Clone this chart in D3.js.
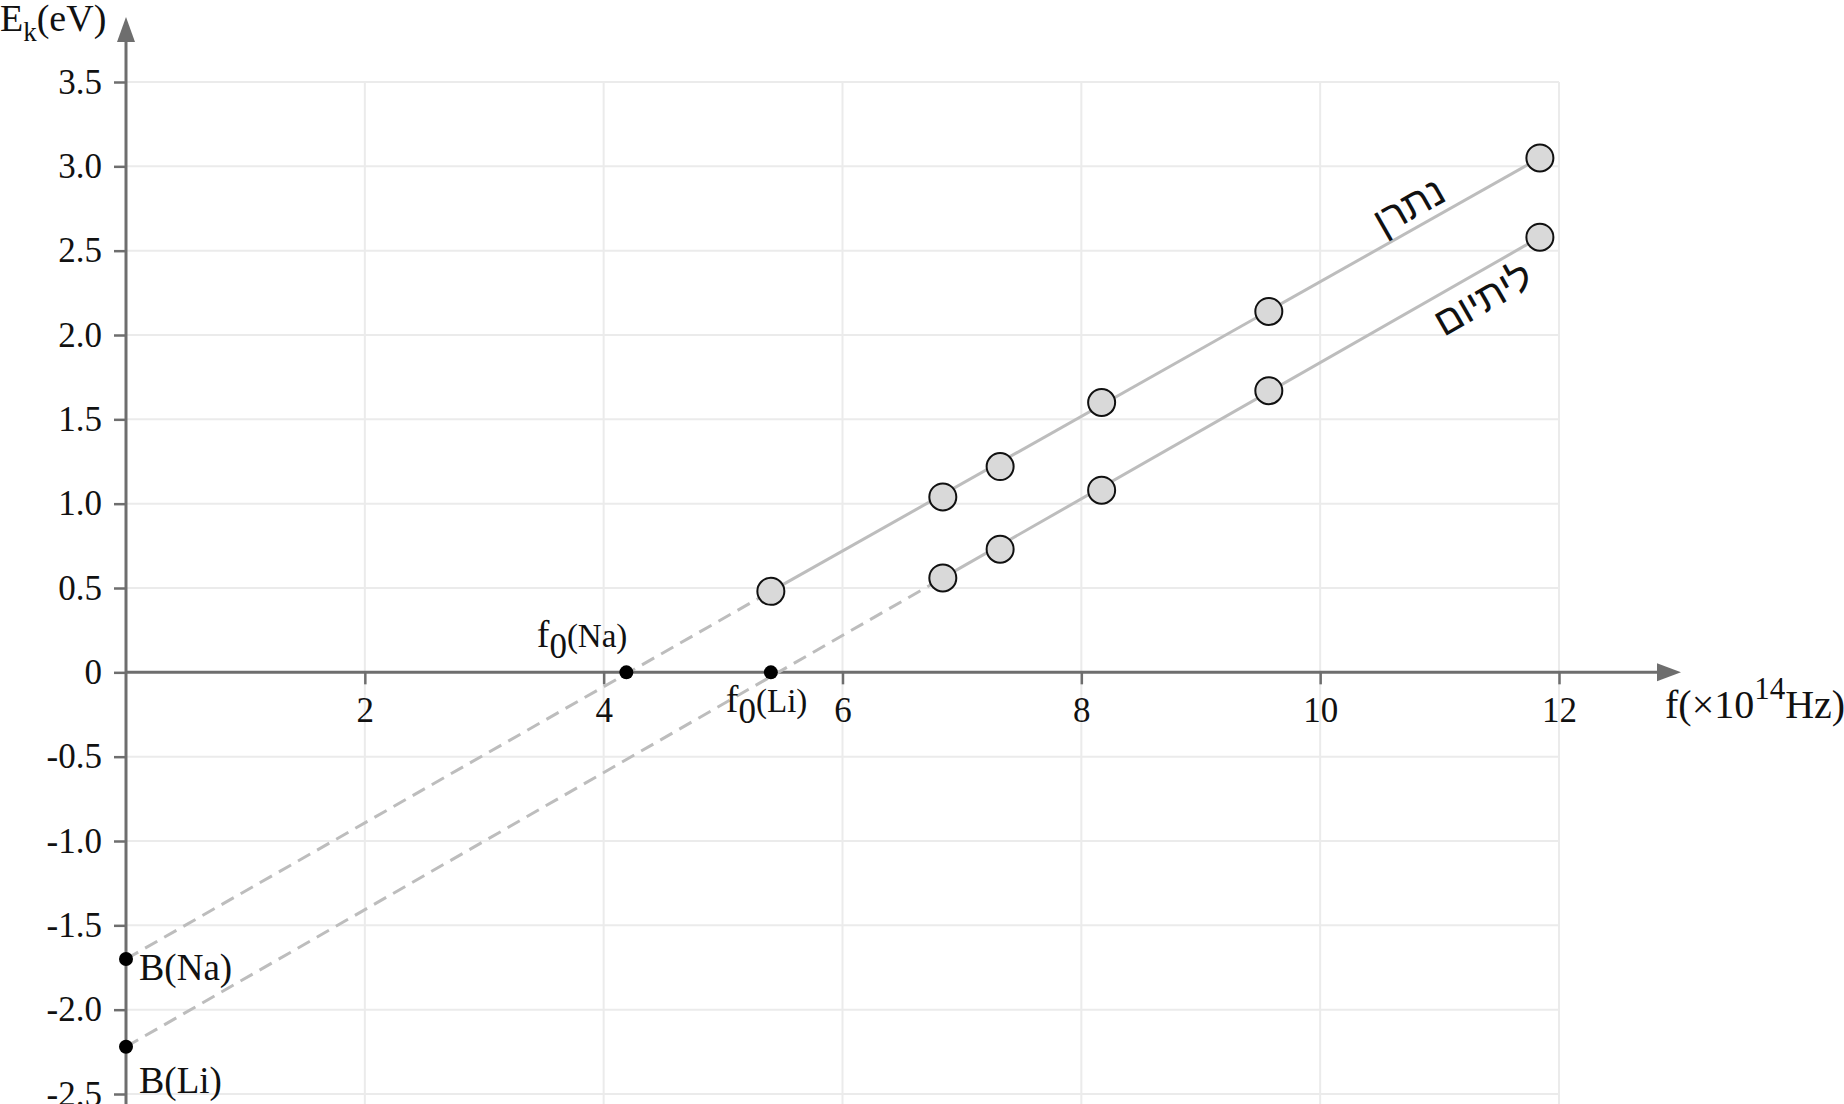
<!DOCTYPE html>
<html>
<head>
<meta charset="utf-8">
<script src="https://cdn.jsdelivr.net/npm/d3@7"></script>
<style>
  body { margin: 0; background: #fff; }
  svg { display: block; }
</style>
</head>
<body>
<svg id="chart" width="1844" height="1104"></svg>
<script>
// measured points, frequency in 10^14 Hz, energy in eV
const naFreq = [5.40, 6.84, 7.32, 8.17, 9.57, 11.84]
const naEnergy = [0.48, 1.04, 1.22, 1.60, 2.14, 3.05]
const liFreq = [6.84, 7.32, 8.17, 9.57, 11.84]
const liEnergy = [0.56, 0.73, 1.08, 1.67, 2.58]

// threshold frequency and intercept of each metal
const metals = ['Na', 'Li']
const metalNames = ['נתרן', 'ליתיום']
const cutoffFreq = [4.19, 5.40]
const interceptB = [-1.70, -2.22]

const xTicks = [2, 4, 6, 8, 10, 12]
const yTicks = [-2.5, -2.0, -1.5, -1.0, -0.5, 0, 0.5, 1.0, 1.5, 2.0, 2.5, 3.0, 3.5]

const serif = 'Liberation Serif, Times New Roman, serif'
const sans = 'Liberation Sans, DejaVu Sans, sans-serif'
const axisColor = '#6e6e6e'
const gridColor = '#ebebeb'
const lineColor = '#bdbdbd'

const svg = d3.select('#chart')
const x = d3.scaleLinear().domain([0, 12]).range([126, 1559])
const y = d3.scaleLinear().domain([-2.5, 3.5]).range([1094, 82])

/**
 * Light grid behind everything.
 */
function drawGrid () {
  const g = svg.append('g')
  g.selectAll('.vgrid')
    .data(xTicks)
    .enter()
    .append('line')
    .attr('x1', d => x(d))
    .attr('x2', d => x(d))
    .attr('y1', y(3.5))
    .attr('y2', 1104)
    .attr('stroke', gridColor)
    .attr('stroke-width', 2)
  g.selectAll('.hgrid')
    .data(yTicks.filter(d => d !== 0))
    .enter()
    .append('line')
    .attr('x1', x(0))
    .attr('x2', x(12))
    .attr('y1', d => y(d))
    .attr('y2', d => y(d))
    .attr('stroke', gridColor)
    .attr('stroke-width', 2)
}

/**
 * Both axes with their arrow heads, ticks and titles.
 */
function drawAxes () {
  const yAxis = d3.axisLeft(y)
    .tickValues(yTicks)
    .tickSize(12)
    .tickPadding(12)
    .tickFormat(d => d === 0 ? '0' : d.toFixed(1))
  const gy = svg.append('g')
    .attr('transform', `translate(${x(0)},0)`)
    .call(yAxis)
  gy.select('.domain').remove()
  gy.selectAll('line').attr('stroke', axisColor).attr('stroke-width', 2.5)
  gy.selectAll('text')
    .attr('font-family', serif)
    .attr('font-size', 35)
    .attr('fill', '#111')

  const xAxis = d3.axisBottom(x)
    .tickValues(xTicks)
    .tickSize(12)
    .tickPadding(13)
  const gx = svg.append('g')
    .attr('transform', `translate(0,${y(0)})`)
    .call(xAxis)
  gx.select('.domain').remove()
  gx.selectAll('line').attr('stroke', axisColor).attr('stroke-width', 2.5)
  gx.selectAll('text')
    .attr('font-family', serif)
    .attr('font-size', 35)
    .attr('fill', '#111')

  // axis lines
  svg.append('line')
    .attr('x1', x(0)).attr('x2', x(0))
    .attr('y1', 1104).attr('y2', 40)
    .attr('stroke', axisColor).attr('stroke-width', 3)
  svg.append('path')
    .attr('d', `M${x(0)},17 L${x(0) - 9},42 L${x(0) + 9},42 Z`)
    .attr('fill', axisColor)
  svg.append('line')
    .attr('x1', x(0)).attr('x2', 1660)
    .attr('y1', y(0)).attr('y2', y(0))
    .attr('stroke', axisColor).attr('stroke-width', 3)
  svg.append('path')
    .attr('d', `M1681,${y(0)} L1657,${y(0) - 9} L1657,${y(0) + 9} Z`)
    .attr('fill', axisColor)

  // y title
  const ty = svg.append('text')
    .attr('x', 0)
    .attr('y', 31)
    .attr('font-family', serif)
    .attr('font-size', 38)
    .attr('fill', '#111')
  ty.append('tspan').text('E')
  ty.append('tspan').attr('font-size', 27).attr('dy', 10).text('k')
  ty.append('tspan').attr('dy', -10).text('(eV)')

  // x title
  const tx = svg.append('text')
    .attr('x', 1665)
    .attr('y', 718)
    .attr('font-family', serif)
    .attr('font-size', 40)
    .attr('fill', '#111')
  tx.append('tspan').text('f(×10')
  tx.append('tspan').attr('font-size', 31).attr('dy', -19).text('14')
  tx.append('tspan').attr('dy', 19).text('Hz)')
}

/**
 * One metal: dashed extrapolation, solid fit, markers, dots and labels.
 */
function drawSeries (freq, energy, i) {
  const pts = freq.map((f, k) => ({ f, e: energy[k] }))
  const line = d3.line().x(d => x(d.f)).y(d => y(d.e))
  const first = pts[0]
  const last = pts[pts.length - 1]

  svg.append('path')
    .attr('d', line([{ f: 0, e: interceptB[i] }, first]))
    .attr('fill', 'none')
    .attr('stroke', lineColor)
    .attr('stroke-width', 3)
    .attr('stroke-dasharray', '14,8')
  svg.append('path')
    .attr('d', line([first, last]))
    .attr('fill', 'none')
    .attr('stroke', lineColor)
    .attr('stroke-width', 3)

  // hebrew name written along the line
  const slope = (last.e - interceptB[i]) / last.f
  const angle = Math.atan2(y(slope) - y(0), x(1) - x(0)) * 180 / Math.PI
  const at = i === 0 ? 10.8 : 11.2
  const lx = x(at)
  const ly = y(interceptB[i] + slope * at)
  svg.append('text')
    .attr('transform', `translate(${lx},${ly}) rotate(${angle})`)
    .attr('x', i === 0 ? 5 : 8)
    .attr('y', i === 0 ? -9 : 39)
    .attr('text-anchor', 'middle')
    .attr('font-family', sans)
    .attr('font-size', 40)
    .attr('fill', '#111')
    .text(metalNames[i])

  svg.append('g')
    .selectAll('circle')
    .data(pts)
    .enter()
    .append('circle')
    .attr('cx', d => x(d.f))
    .attr('cy', d => y(d.e))
    .attr('r', 13.5)
    .attr('fill', '#d9d9d9')
    .attr('stroke', '#111')
    .attr('stroke-width', 2)

  svg.append('circle')
    .attr('cx', x(cutoffFreq[i]))
    .attr('cy', y(0))
    .attr('r', 7)
    .attr('fill', '#000')
  svg.append('circle')
    .attr('cx', x(0))
    .attr('cy', y(interceptB[i]))
    .attr('r', 7)
    .attr('fill', '#000')
}

/**
 * f0 and B labels next to the black dots.
 */
function drawMarkLabels () {
  metals.forEach((m, i) => {
    const f0 = svg.append('text')
      .attr('font-family', serif)
      .attr('font-size', 38)
      .attr('fill', '#111')
    if (i === 0) {
      f0.attr('x', x(cutoffFreq[i]) + 1).attr('y', y(0) - 25).attr('text-anchor', 'end')
    } else {
      f0.attr('x', x(cutoffFreq[i]) - 45).attr('y', y(0) + 40)
    }
    f0.append('tspan').text('f')
    f0.append('tspan').attr('font-size', 35).attr('dy', 11).text('0')
    f0.append('tspan').attr('font-size', 33).attr('dy', -11).text(`(${m})`)

    const b = svg.append('text')
      .attr('x', x(0) + 13)
      .attr('y', y(interceptB[i]) + (i === 0 ? 21 : 46))
      .attr('font-family', serif)
      .attr('font-size', 38)
      .attr('fill', '#111')
    b.append('tspan').text('B')
    b.append('tspan').attr('font-size', 37).text(`(${m})`)
  })
}

drawGrid()
drawAxes()
drawSeries(naFreq, naEnergy, 0)
drawSeries(liFreq, liEnergy, 1)
drawMarkLabels()
</script>
</body>
</html>
